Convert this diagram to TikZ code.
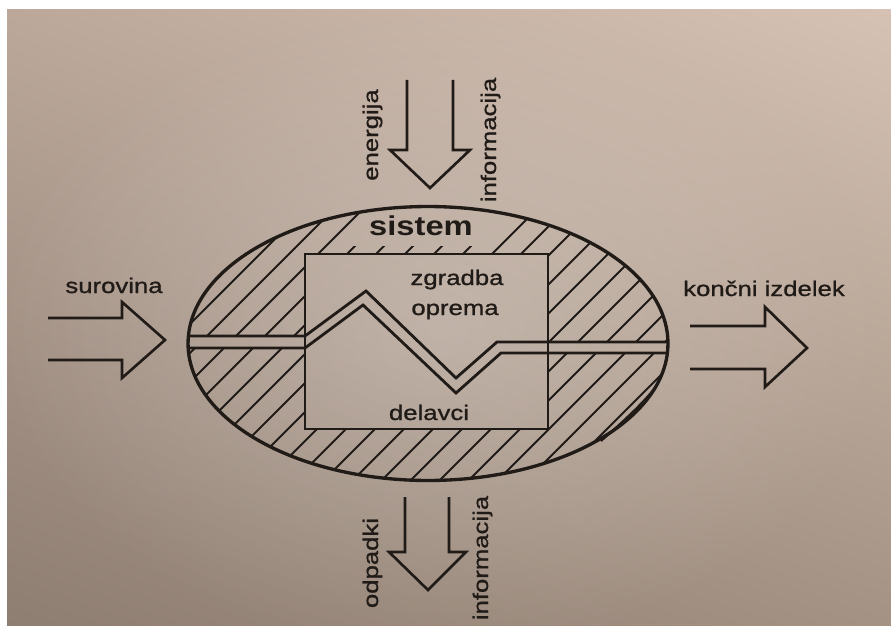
\documentclass[tikz,border=0pt]{standalone}
\usepackage{fontspec}
\usepackage{tikz}
\usetikzlibrary{fadings,shadings}
\newfontfamily\labfont[FakeStretch=1.22,FakeBold=1]{Liberation Sans}
\newfontfamily\headfont[FakeStretch=1.2]{Liberation Sans}
\definecolor{ink}{RGB}{33,27,24}
\definecolor{paperUL}{RGB}{187,168,155}
\definecolor{paperUR}{RGB}{213,194,180}
\definecolor{paperLL}{RGB}{142,125,113}
\definecolor{paperLR}{RGB}{164,147,132}
\newcommand{\hatchw}{1.1pt}
\newcommand{\linew}{1.6pt}
\tikzfading[name=glow, inner color=transparent!0, outer color=transparent!100]

\begin{document}
\begin{tikzpicture}[x=0.02cm,y=-0.02cm]
  \tikzset{lbl/.style={font=\labfont\fontsize{12}{12}\selectfont, text=ink, inner sep=0pt},
    hatch/.style={ink, line width=\hatchw},
    contour/.style={ink, line width=\linew, line join=miter},
    blockarrow/.style={ink, line width=1.5pt, line join=miter}}

  \useasboundingbox (0,0) rectangle (891,625);
  \fill[white] (0,0) rectangle (891,625);
  \shade[upper left=paperUL, upper right=paperUR, lower left=paperLL, lower right=paperLR]
    (7,10) rectangle (891,625);
  \fill[white, opacity=0.22, path fading=glow] (440,330) ellipse [x radius=9cm, y radius=6.5cm];

  % hatched ring between the ellipse and the box
  \begin{scope}
    \clip (428,343.5) ellipse [x radius=4.8cm, y radius=2.74cm];
    \begin{scope}[even odd rule]
      \clip (100,150) rectangle (760,520)
        (305,254) rectangle (548,429)
        (150,336) rectangle (305,348)
        (548,342) rectangle (720,353)
        (349,246) -- (478,246) -- (540,184) -- (411,184) -- cycle;
      \foreach \k in {-3,...,18}
        \draw[hatch] ({543+29*\k-520},520) -- ({543+29*\k-170},170);
    \end{scope}
  \end{scope}

  \draw[contour, line width=1.9pt] (428,343.5) ellipse [x radius=4.8cm, y radius=2.74cm];
  \draw[contour, line width=1.2pt] (657,385) .. controls (645,402) and (618,426) .. (601,441);
  \draw[contour, line width=1.4pt] (305,254) rectangle (548,429);

  % flow channel through the system
  \draw[contour] (188,336) -- (305,336) -- (366,291) -- (456,378) -- (497,342) -- (668,342);
  \draw[contour] (188,348) -- (305,348) -- (363,305) -- (456,393) -- (501,353) -- (668,353);

  % inputs and outputs
  \draw[blockarrow] (407,80) -- (407,150) -- (390,150) -- (430,188) -- (470,150) -- (453,150) -- (453,80);
  \draw[blockarrow] (405,497) -- (405,552) -- (389,552) -- (428,590) -- (466,552) -- (449,552) -- (449,497);
  \draw[blockarrow] (48,318) -- (122,318) -- (122,302) -- (165,340) -- (122,378) -- (122,360) -- (48,360);
  \draw[blockarrow] (690,326) -- (765,326) -- (765,307) -- (807,348) -- (765,387) -- (765,369) -- (690,369);

  \node[lbl, anchor=base, font=\headfont\bfseries\fontsize{15.5}{15.5}\selectfont] (sistem) at (421,235) {sistem};
  \node[lbl, anchor=base] (zgradba) at (457,285) {zgradba};
  \node[lbl, anchor=base] (oprema) at (455,315) {oprema};
  \node[lbl, anchor=base] (delavci) at (429,420) {delavci};
  \node[lbl, anchor=base] (surovina) at (114,293) {surovina};
  \node[lbl, anchor=base] (izdelek) at (764,296) {končni izdelek};
  \node[lbl, anchor=base, rotate=90] (energija) at (378,135) {energija};
  \node[lbl, anchor=base, rotate=90] (infoin) at (496,140) {informacija};
  \node[lbl, anchor=base, rotate=90] (odpadki) at (378,563) {odpadki};
  \node[lbl, anchor=base, rotate=90] (infoout) at (488,558) {informacija};
\end{tikzpicture}
\end{document}
